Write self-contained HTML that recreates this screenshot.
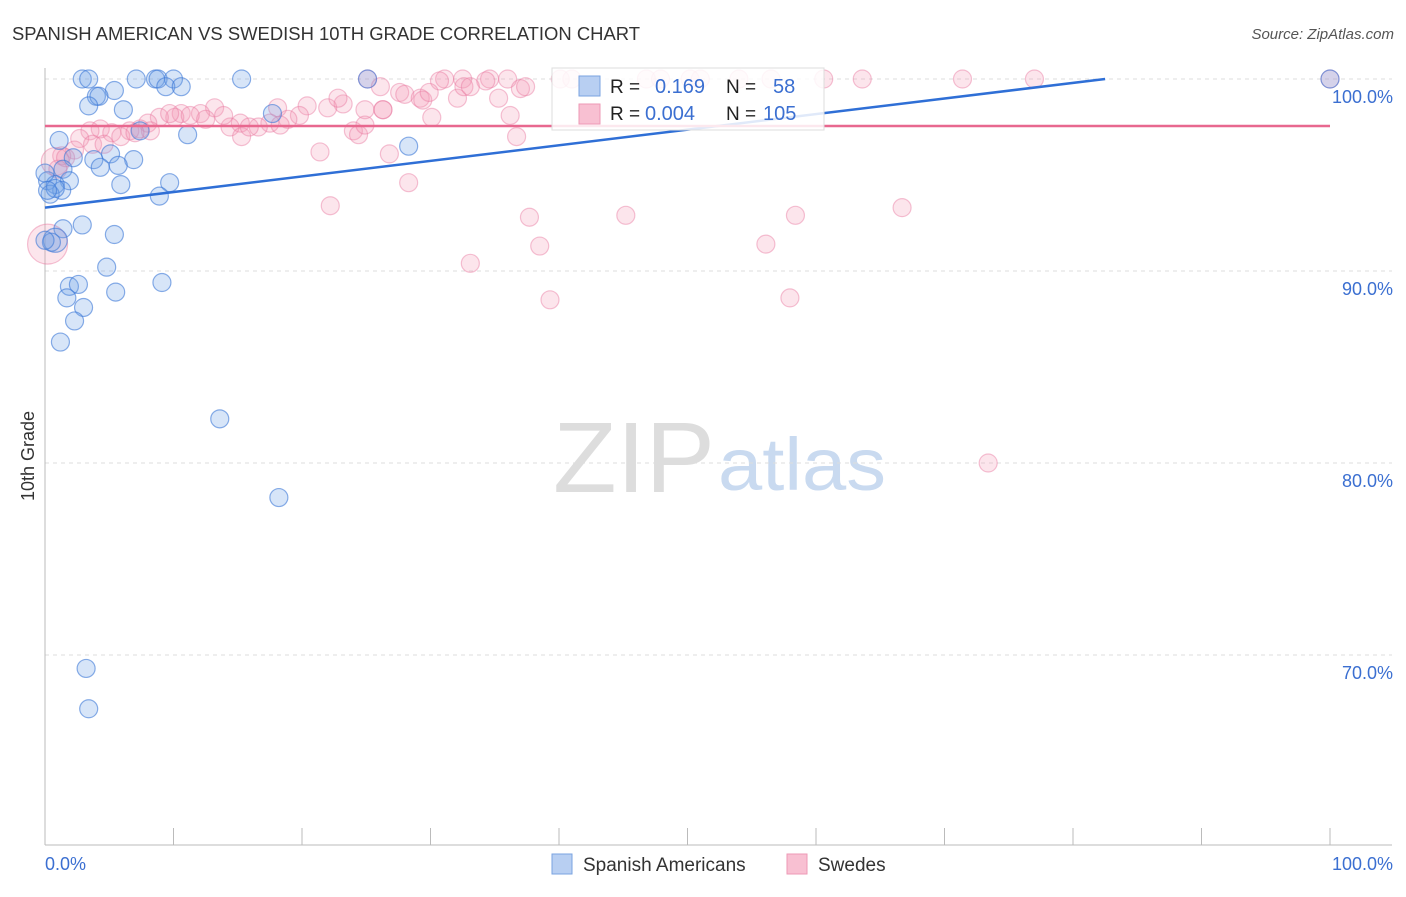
<!DOCTYPE html>
<html><head><meta charset="utf-8"><style>
body{margin:0;background:#fff;font-family:"Liberation Sans",sans-serif}
svg text{font-family:"Liberation Sans",sans-serif}
</style></head><body>
<svg id="chart" width="1406" height="892" xmlns="http://www.w3.org/2000/svg">
<text x="12" y="40" font-size="18" fill="#333" textLength="628" lengthAdjust="spacingAndGlyphs">SPANISH AMERICAN VS SWEDISH 10TH GRADE CORRELATION CHART</text>
<text x="1394" y="39" font-size="15" fill="#555" text-anchor="end" font-style="italic">Source: ZipAtlas.com</text>
<text x="553" y="492" font-size="100" fill="#ddd" font-family="Liberation Serif" textLength="162" lengthAdjust="spacingAndGlyphs">ZIP</text>
<text x="718" y="490" font-size="74" fill="#c9daf0" textLength="168" lengthAdjust="spacingAndGlyphs">atlas</text>
<g id="grid"></g>
<g id="axes"></g>
<g id="pink"></g>
<g id="blue"></g>
<g id="trends"></g>
<g>
<rect x="552" y="68" width="272" height="62" fill="rgba(255,255,255,0.85)" stroke="#ddd"/>
<rect x="579" y="76" width="21" height="20" fill="#b8cff2" stroke="#7aa3e0"/>
<rect x="579" y="104" width="21" height="20" fill="#f8c0d2" stroke="#ee99b6"/>
<text x="610" y="93" font-size="19" fill="#222">R =</text>
<text x="655" y="93" font-size="20" fill="#3b6fd1">0.169</text>
<text x="726" y="93" font-size="19" fill="#222">N =</text>
<text x="773" y="93" font-size="20" fill="#3b6fd1">58</text>
<text x="610" y="120" font-size="19" fill="#222">R =</text>
<text x="645" y="120" font-size="20" fill="#3b6fd1">0.004</text>
<text x="726" y="120" font-size="19" fill="#222">N =</text>
<text x="763" y="120" font-size="20" fill="#3b6fd1">105</text>
</g>
<text transform="translate(34,456) rotate(-90)" font-size="18" fill="#333" text-anchor="middle">10th Grade</text>
<g>
<rect x="552" y="854" width="20" height="20" fill="#b8cff2" stroke="#7aa3e0"/>
<text x="583" y="871" font-size="19" fill="#333">Spanish Americans</text>
<rect x="787" y="854" width="20" height="20" fill="#f8c0d2" stroke="#ee99b6"/>
<text x="818" y="871" font-size="19" fill="#333">Swedes</text>
</g>
</svg>
<script>
const yTicks=[100,90,80,70];
const yTickLabels=["100.0%","90.0%","80.0%","70.0%"];
const blueX=[2.9,3.4,7.1,8.6,8.8,10,15.3,25.1,100,9.4,10.6,5.4,4.0,4.2,3.4,6.1,17.7,7.4,11.1,1.1,28.3,3.8,5.1,6.9,2.2,5.7,4.3,1.4,0.2,1.9,0.8,5.9,9.7,1.3,0.4,8.9,2.9,1.4,5.4,0.8,0.5,4.8,1.9,2.6,1.7,3.0,5.5,9.1,2.3,1.2,13.6,18.2,3.2,3.4,0.8,0,0.2,0];
const blueY=[100,100,100,100,100,100,100,100,100,99.6,99.6,99.4,99.1,99.1,98.6,98.4,98.2,97.3,97.1,96.8,96.5,95.8,96.1,95.8,95.9,95.5,95.4,95.3,94.7,94.7,94.5,94.5,94.6,94.2,94,93.9,92.4,92.2,91.9,91.6,91.5,90.2,89.2,89.3,88.6,88.1,88.9,89.4,87.4,86.3,82.3,78.2,69.3,67.2,94.3,95.1,94.2,91.6];
const blueR=[9,9,9,9,9,9,9,9,9,9,9,9,9,9,9,9,9,9,9,9,9,9,9,9,9,9,9,9,9,9,9,9,9,9,9,9,9,9,9,12,9,9,9,9,9,9,9,9,9,9,9,9,9,9,9,9,9,9];
const pinkX=[25.1,31.1,32.5,34.6,36,30.7,34.3,40.1,41,46.8,47.9,50.2,51,54,56.5,60.6,63.6,71.4,77,100,26.1,27.6,28,29.2,29.4,29.9,32.1,32.6,35.3,37,24.9,26.3,36.2,30.1,26.3,23.2,22,20.4,22.8,18.1,19.8,18.9,17.5,16.6,15.2,14.4,13.2,13.9,12.1,12.5,10.6,10.1,8.9,8,7.4,6.6,4.3,3.5,5.2,2.7,2.3,1.3,3.7,5.9,4.6,15.3,24,24.4,24.9,21.4,26.8,36.7,28.3,22.2,37.7,45.2,58.4,66.7,38.5,33.1,56.1,39.3,57.97,73.4,0.8,1.6,0.2,1,15.9,18.3,11.3,9.7,8.2,7,33.1,37.4,42.4];
const pinkY=[100,100,100,100,100,99.9,99.9,100,100,100,100,100,100,100,100,100,100,100,100,100,99.6,99.3,99.2,99,98.9,99.3,99,99.6,99,99.5,98.4,98.4,98.1,98,98.4,98.7,98.5,98.6,99,98.5,98.1,97.9,97.7,97.5,97.7,97.5,98.5,98.1,98.2,97.9,98.2,98,98,97.7,97.4,97.3,97.4,97.3,97.2,96.9,96.3,96,96.6,97,96.6,97,97.3,97.1,97.6,96.2,96.1,97,94.6,93.4,92.8,92.9,92.9,93.3,91.3,90.4,91.4,88.5,88.6,80,95.7,95.9,91.4,95.3,97.5,97.6,98.1,98.2,97.3,97.2,99.6,99.6,99.6];
const pinkR=pinkX.map((v,i)=>i===86?20:(i===84?14:9));
const ns="http://www.w3.org/2000/svg";
const x0=45,x1=1330,yTop=79,pxPerPct=19.2;
function sx(v){return x0+(x1-x0)*v/100;}
function sy(v){return yTop+(100-v)*pxPerPct;}
function mk(t,a,p){const e=document.createElementNS(ns,t);for(const k in a)e.setAttribute(k,a[k]);p.appendChild(e);return e;}
const grid=document.getElementById('grid'),axes=document.getElementById('axes');
yTicks.forEach((t,i)=>{
 const l=mk('line',{x1:45,x2:1392,y1:sy(t),y2:sy(t),stroke:'#ddd','stroke-dasharray':'4,4'},grid);
 
 
 const tx=mk('text',{x:1393,y:sy(t)+24,'font-size':18,fill:'#3b6fd1','text-anchor':'end'},axes);
 tx.textContent=yTickLabels[i];
 
 
});
mk('line',{x1:45,x2:45,y1:68,y2:845,stroke:'#bbb'},axes);
mk('line',{x1:45,x2:1392,y1:845,y2:845,stroke:'#bbb'},axes);
for(let i=0;i<=10;i++){mk('line',{x1:sx(i*10),x2:sx(i*10),y1:828,y2:845,stroke:'#bbb'},axes);}
const xl=mk('text',{x:45,y:870,'font-size':18,fill:'#3b6fd1'},axes);xl.textContent='0.0%';


const xr=mk('text',{x:1393,y:870,'font-size':18,fill:'#3b6fd1','text-anchor':'end'},axes);xr.textContent='100.0%';


const pg=document.getElementById('pink'),bg=document.getElementById('blue');
pinkX.forEach((v,i)=>{const c=mk('circle',{cx:sx(v),cy:sy(pinkY[i]),r:pinkR[i],fill:'rgba(244,150,180,0.25)',stroke:'rgba(232,120,160,0.45)','stroke-width':1.2},pg);
 
 });
blueX.forEach((v,i)=>{const c=mk('circle',{cx:sx(v),cy:sy(blueY[i]),r:blueR[i],fill:'rgba(110,160,230,0.28)',stroke:'rgba(60,120,215,0.6)','stroke-width':1.2},bg);
 
 });
const tg=document.getElementById('trends');
const bt=mk('line',{x1:sx(0),y1:sy(93.3),x2:sx(82.5),y2:sy(100),stroke:'#2f6fd6','stroke-width':2.5},tg);


const pt=mk('line',{x1:sx(0),y1:sy(97.55),x2:sx(100),y2:sy(97.55),stroke:'#e8688f','stroke-width':2.5},tg);


</script>
</body></html>
